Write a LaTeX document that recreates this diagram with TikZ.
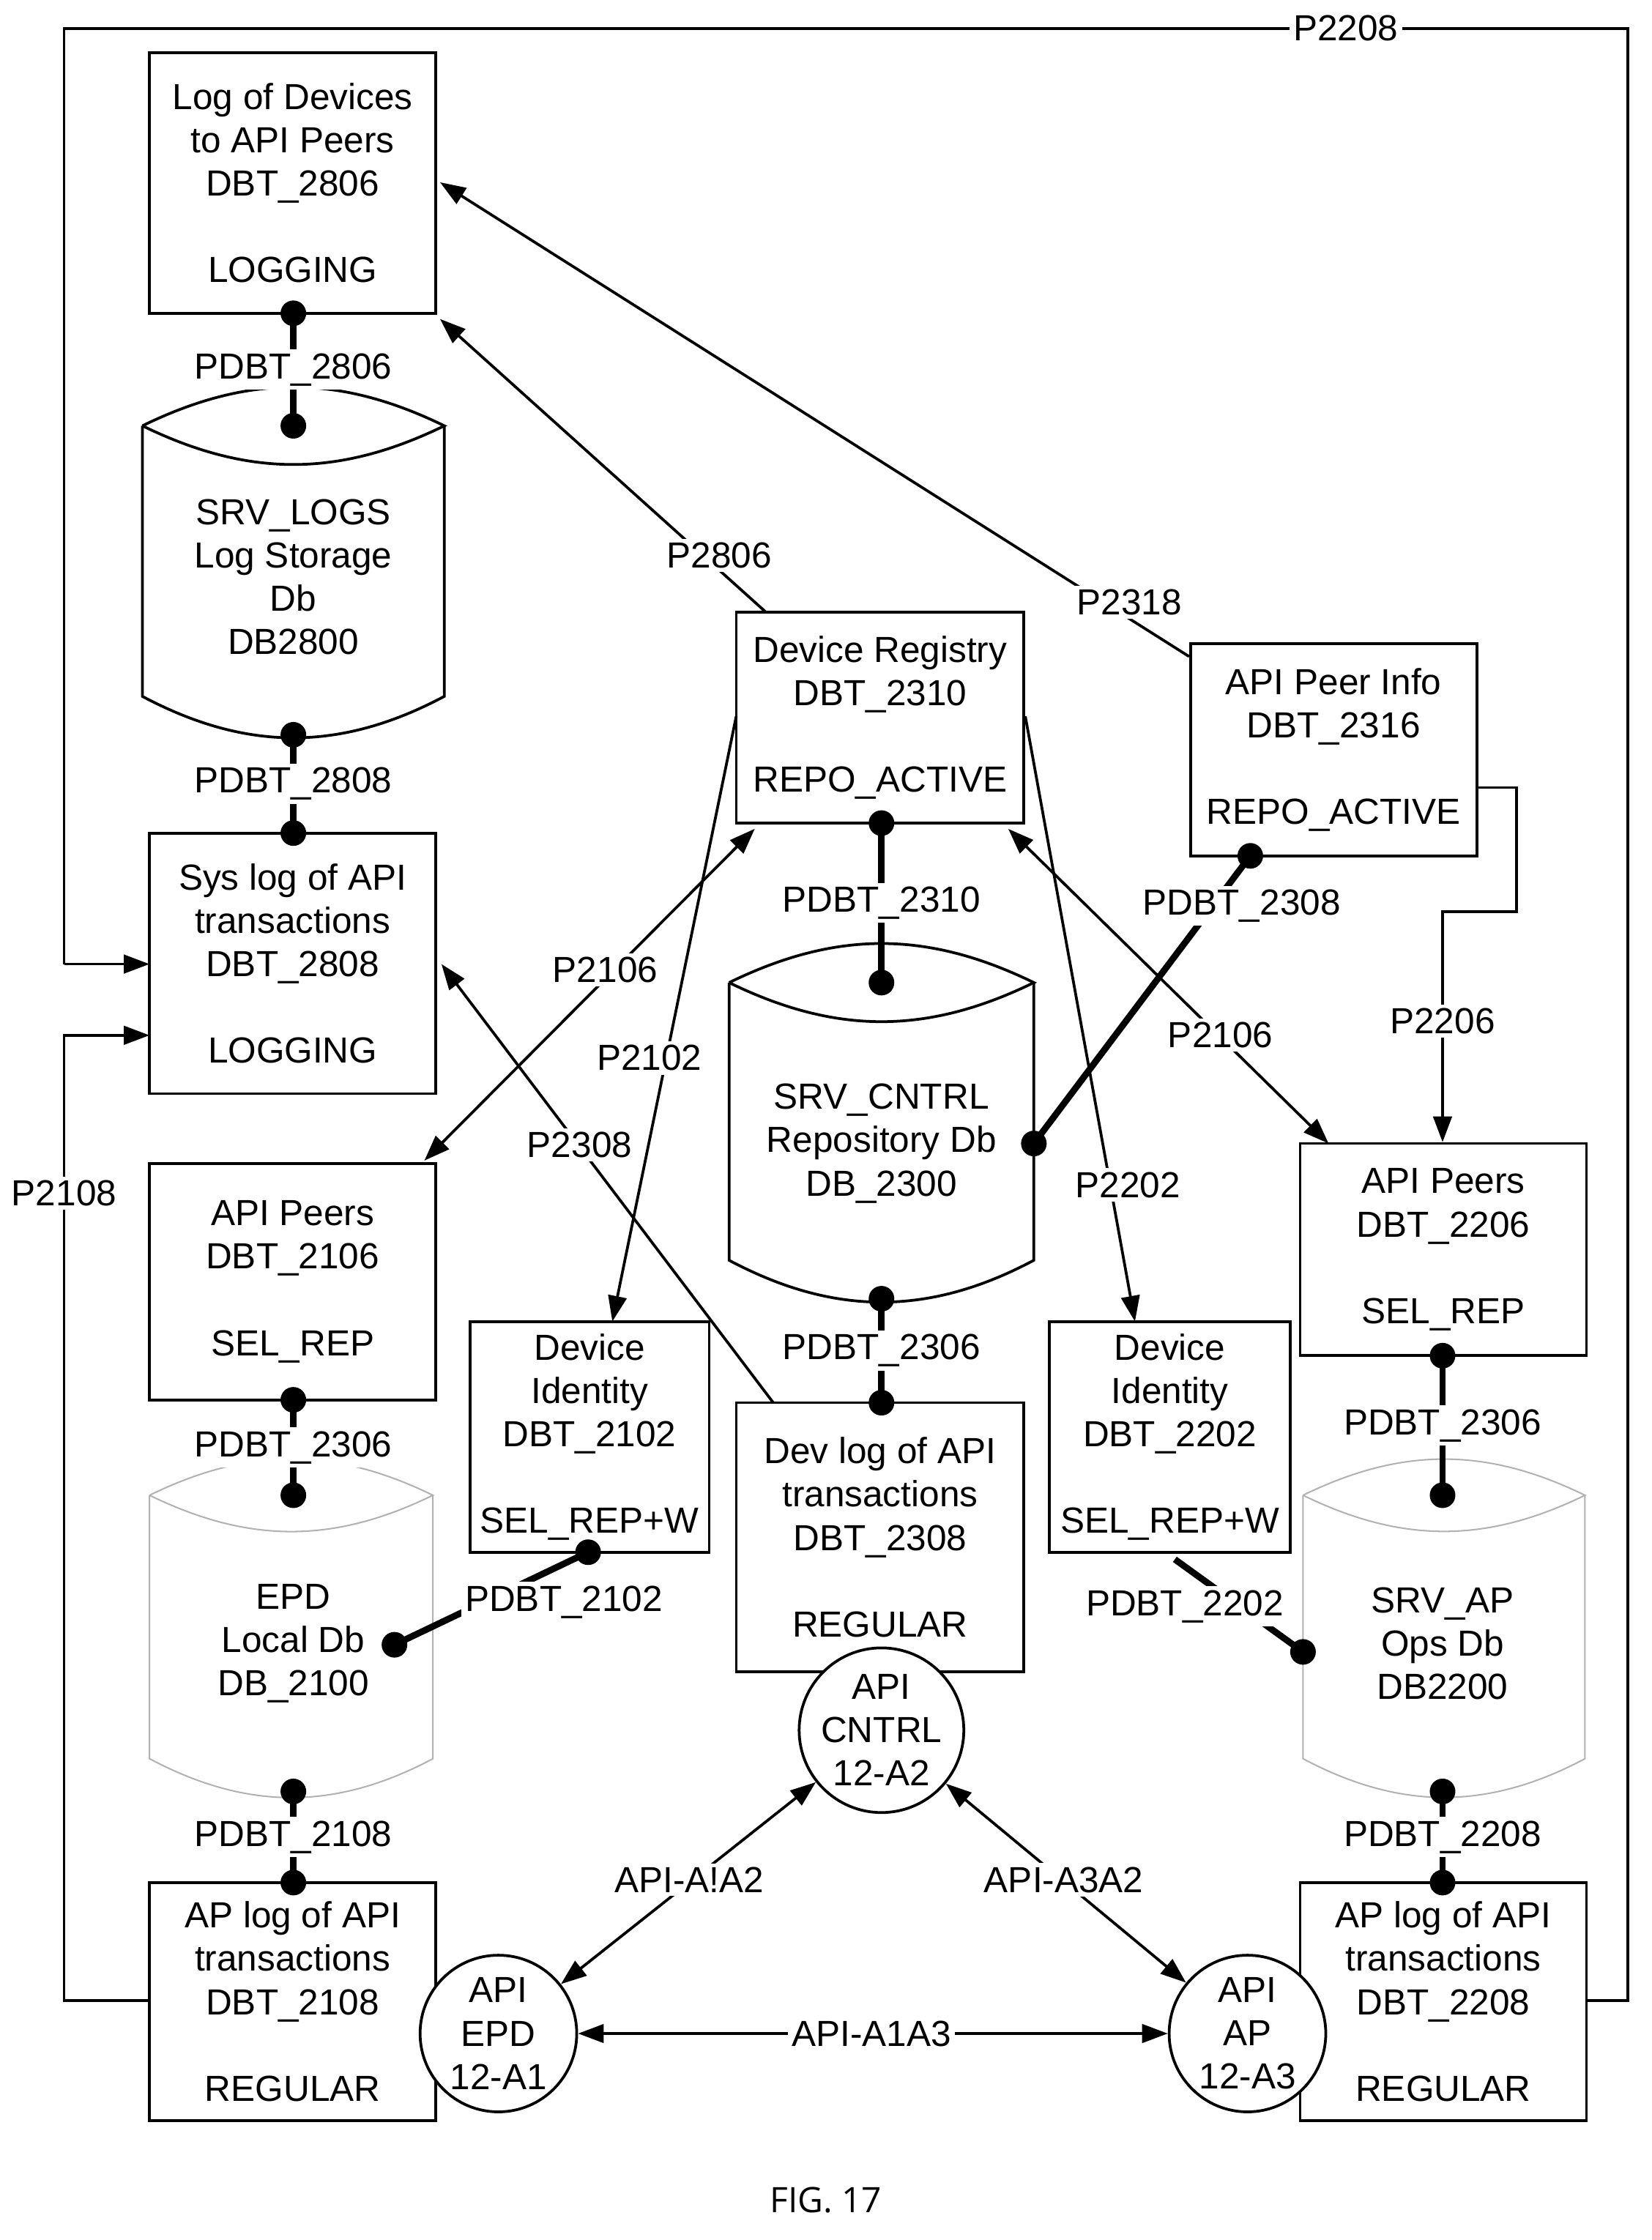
\documentclass[tikz,border=0pt]{standalone}
\usepackage{fontspec}
\setmainfont{Liberation Sans}
\newfontfamily\capfont{Open Sans}
\usetikzlibrary{arrows.meta}
\tikzset{
  tbl/.style={draw, line width=1.1pt, fill=white, align=center, inner sep=0pt},
  lbl/.style={fill=white, inner sep=1.5pt},
  lnk/.style={line width=1.1pt},
  arr/.style={lnk, -{Triangle[length=0.36cm,width=0.26cm]}},
  darr/.style={lnk, {Triangle[length=0.36cm,width=0.26cm]}-{Triangle[length=0.36cm,width=0.26cm]}},
  pdb/.style={line width=2.6pt},
  dot/.style={fill, circle, minimum size=0.36cm, inner sep=0pt}
}
% cylinder: left x, right x, top y, bottom y, colour, line width
\newcommand{\dbcyl}[6]{%
  \draw[#5, line width=#6, fill=white] (#1,#3) -- (#1,#4) to[bend right=28] (#2,#4) -- (#2,#3);
  \draw[#5, line width=#6, fill=white] (#1,#3) to[bend left=26] (#2,#3) to[bend left=26] (#1,#3);}
\begin{document}
\begin{tikzpicture}[x=0.02cm, y=-0.02cm, font=\fontsize{14.5pt}{17.3pt}\selectfont]
  \useasboundingbox (0,0) rectangle (1160,1573);
  % outer feedback lines
  \draw[lnk] (1114,1405) -- (1143,1405) -- (1143,20) -- (45,20) -- (45,677);
  \draw[arr] (45,677) -- (105,677);
  \draw[arr] (105,1405) -- (45,1405) -- (45,727) -- (105,727);
  \node[lbl] at (945,20) {P2208};
  \node[lbl] at (45,838) {P2108};
  % databases
  \dbcyl{100}{312}{299}{489}{black}{1.1pt}
  \dbcyl{512}{726}{690}{885}{black}{1.1pt}
  \dbcyl{105}{304}{1050}{1235}{gray!60}{0.6pt}
  \dbcyl{915}{1113}{1050}{1235}{gray!60}{0.6pt}
  \node[align=center] (logs) at (206,405) {SRV\_LOGS\\Log Storage\\Db\\DB2800};
  \node[align=center] (cntrl) at (619,803) {SRV\_CNTRL\\Repository Db\\DB\_2300};
  \node[align=center] (epddb) at (206,1154) {EPD\\Local Db\\DB\_2100};
  \node[align=center] (apdb) at (1013,1154) {SRV\_AP\\Ops Db\\DB2200};
  % tables
  \node[tbl, minimum width=201*0.02cm, minimum height=183*0.02cm] (logdev) at (205.5,128.5) {Log of Devices\\to API Peers\\DBT\_2806\\\mbox{}\\LOGGING};
  \node[tbl, minimum width=201*0.02cm, minimum height=183*0.02cm] (syslog) at (205.5,676.5) {Sys log of API\\transactions\\DBT\_2808\\\mbox{}\\LOGGING};
  \node[tbl, minimum width=201*0.02cm, minimum height=166*0.02cm] (peersL) at (205.5,900) {API Peers\\DBT\_2106\\\mbox{}\\SEL\_REP};
  \node[tbl, minimum width=201*0.02cm, minimum height=167*0.02cm] (aplogL) at (205.5,1405.5) {AP log of API\\transactions\\DBT\_2108\\\mbox{}\\REGULAR};
  \node[tbl, minimum width=168*0.02cm, minimum height=162*0.02cm] (devidL) at (414,1009) {Device\\Identity\\DBT\_2102\\\mbox{}\\SEL\_REP+W};
  \node[tbl, minimum width=202*0.02cm, minimum height=148*0.02cm] (devreg) at (618,504) {Device Registry\\DBT\_2310\\\mbox{}\\REPO\_ACTIVE};
  \node[tbl, minimum width=202*0.02cm, minimum height=189*0.02cm] (devlog) at (618,1079.5) {Dev log of API\\transactions\\DBT\_2308\\\mbox{}\\REGULAR};
  \node[tbl, minimum width=201*0.02cm, minimum height=149*0.02cm] (peerinfo) at (936.5,526.5) {API Peer Info\\DBT\_2316\\\mbox{}\\REPO\_ACTIVE};
  \node[tbl, minimum width=201*0.02cm, minimum height=149*0.02cm] (peersR) at (1013.5,877.5) {API Peers\\DBT\_2206\\\mbox{}\\SEL\_REP};
  \node[tbl, minimum width=169*0.02cm, minimum height=162*0.02cm] (devidR) at (821.5,1009) {Device\\Identity\\DBT\_2202\\\mbox{}\\SEL\_REP+W};
  \node[tbl, minimum width=201*0.02cm, minimum height=167*0.02cm] (aplogR) at (1013.5,1405.5) {AP log of API\\transactions\\DBT\_2208\\\mbox{}\\REGULAR};
  % API endpoints
  \node[tbl, circle, minimum size=110*0.02cm] (epd) at (350,1428) {API\\EPD\\12-A1};
  \node[tbl, circle, minimum size=110*0.02cm] (ctl) at (619,1215) {API\\CNTRL\\12-A2};
  \node[tbl, circle, minimum size=110*0.02cm] (ap) at (876,1428) {API\\AP\\12-A3};
  % table to db links
  \foreach \a/\b/\t/\y in {206/220/299/2806, 206/516/585/2808, 619/578/690/2310, 619/912/985/2306,
                           206/983/1050/2306, 206/1258/1322/2108, 1013/952/1050/2306, 1013/1258/1322/2208}{
    \draw[pdb] (\a,\b) -- (\a,\t);
    \node[dot] at (\a,\b) {};
    \node[dot] at (\a,\t) {};
    \node[lbl] at (\a,{(\b+\t)/2}) {PDBT\_\y};
  }
  \coordinate (pL) at (413,1090);
  \coordinate (pLdb) at (277,1155);
  \draw[pdb] (pL) -- (pLdb);
  \node[dot] at (pL) {};
  \node[dot] at (pLdb) {};
  \node[lbl] at (396,1125) {PDBT\_2102};
  \coordinate (pR) at (825,1095);
  \coordinate (pRdb) at (915,1160);
  \draw[pdb] (pR) -- (pRdb);
  \node[dot] at (pRdb) {};
  \node[lbl] at (832,1128) {PDBT\_2202};
  \coordinate (pI) at (878,601);
  \coordinate (pIdb) at (726,803);
  \draw[pdb] (pI) -- (pIdb);
  \node[dot] at (pI) {};
  \node[dot] at (pIdb) {};
  \node[lbl] at (872,636) {PDBT\_2308};
  % paths between tables
  \draw[arr] (538,430) -- (309,224);
  \node[lbl] at (505,390) {P2806};
  \draw[arr] (peerinfo.north west) ++(0,10) -- (309,128);
  \node[lbl] at (793,423) {P2318};
  \draw[darr] (298,815) -- (530,582);
  \node[lbl] at (425,681) {P2106};
  \draw[darr] (708,582) -- (933,803);
  \node[lbl] at (857,727) {P2106};
  \draw[arr] (517,503) -- (430,928);
  \node[lbl] at (456,743) {P2102};
  \draw[arr] (720,503) -- (797,928);
  \node[lbl] at (792,832) {P2202};
  \draw[arr] (543,985) -- (310,677);
  \node[lbl] at (407,804) {P2308};
  \draw[arr] (1037,553) -- (1065,553) -- (1065,640) -- (1013,640) -- (peersR.north -| 1013,0);
  \node[lbl] at (1013,717) {P2206};
  % API links
  \draw[darr] (epd) -- (ap);
  \node[lbl] at (612,1428) {API-A1A3};
  \draw[darr] (epd) -- (ctl);
  \node[lbl] at (484,1320) {API-A!A2};
  \draw[darr] (ap) -- (ctl);
  \node[lbl] at (747,1320) {API-A3A2};
  \node[font=\capfont\fontsize{14pt}{15pt}\selectfont] at (580,1545) {FIG. 17};
\end{tikzpicture}
\end{document}
